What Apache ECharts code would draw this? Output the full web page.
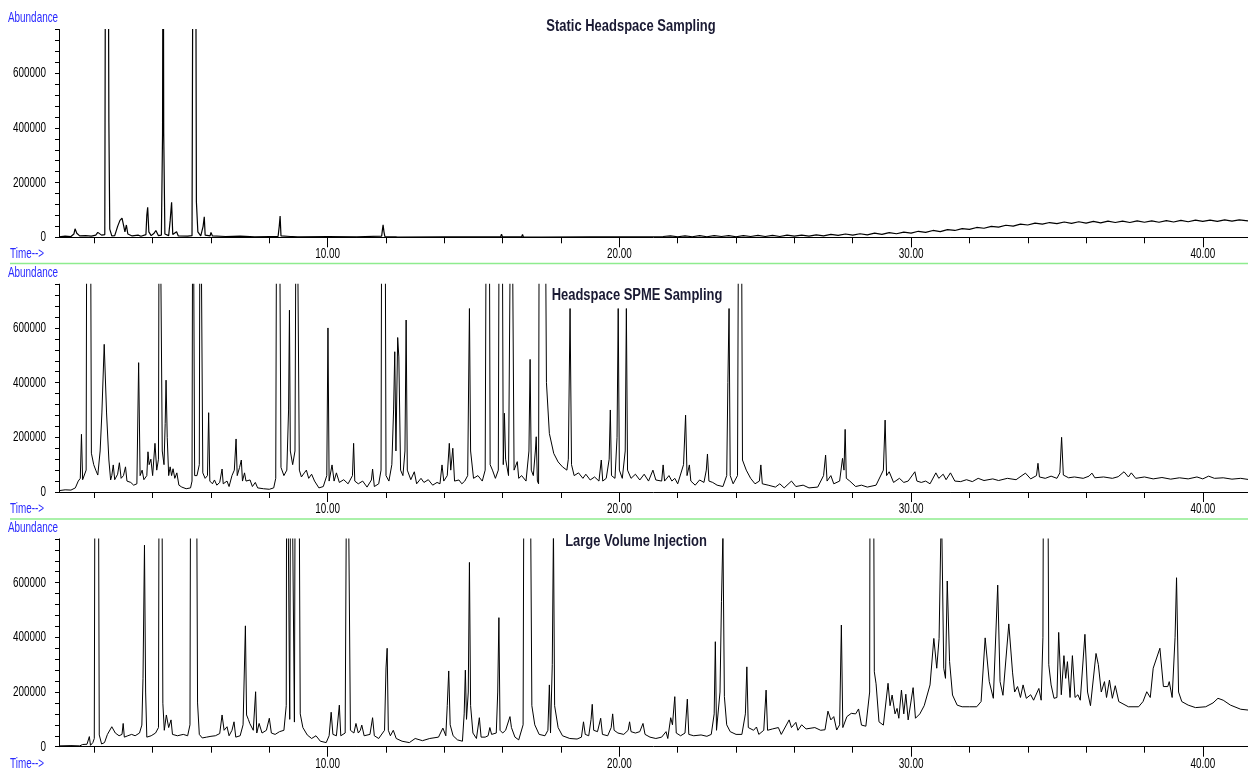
<!DOCTYPE html>
<html>
<head>
<meta charset="utf-8">
<script src="https://cdn.jsdelivr.net/npm/echarts@6/dist/echarts.min.js"></script>
<style>
html, body { margin: 0; padding: 0; background: #fff; }
#chart { width: 1248px; height: 769px; }
</style>
</head>
<body>
<div id="chart"></div>
<script>
// panel titles
var panelTitles = ['Static Headspace Sampling', 'Headspace SPME Sampling', 'Large Volume Injection'];

// time axis range (min) and tick labels
var timeMin = 0.79, timeMax = 41.55;
var timeLabels = [10, 20, 30, 40];
var abundLabels = [0, 200000, 400000, 600000];

// traces: [time (min), abundance]
var staticTrace = [[0.79,2000],[1.0,4000],[1.2,3000],[1.3,12000],[1.34,31000],[1.4,15000],[1.5,5000],[1.7,6000],[1.9,4000],[2.05,8000],[2.12,18000],[2.17,23000],[2.25,8000],[2.36,10000],[2.39,1500000],[2.47,1500000],[2.5,420000],[2.53,30000],[2.6,5000],[2.7,6000],[2.8,40000],[2.88,62000],[2.95,70000],[3.0,45000],[3.05,20000],[3.1,45000],[3.15,12000],[3.3,5000],[3.5,8000],[3.6,4000],[3.77,10000],[3.8,80000],[3.83,110000],[3.87,20000],[3.95,6000],[4.05,15000],[4.11,25000],[4.2,6000],[4.3,8000],[4.34,380000],[4.36,1500000],[4.38,380000],[4.42,12000],[4.55,6000],[4.6,60000],[4.65,128000],[4.69,10000],[4.82,20000],[4.88,5000],[5.2,4000],[5.35,6000],[5.39,1500000],[5.47,1500000],[5.5,130000],[5.55,20000],[5.65,5000],[5.73,40000],[5.77,75000],[5.8,8000],[5.97,5000],[6.0,18000],[6.05,5000],[6.5,3000],[7.0,4000],[7.5,2000],[8.0,3000],[8.3,3000],[8.34,40000],[8.37,78000],[8.4,5000],[8.72,3000],[8.76,10000],[8.8,3000],[8.97,2000],[9.0,8000],[9.05,2000],[10.0,3000],[11.0,2000],[11.85,4000],[11.88,30000],[11.9,46000],[11.93,20000],[11.96,3000],[12.33,2000],[12.36,5000],[12.4,1000],[14.0,2000],[15.93,2000],[15.96,11000],[15.99,2000],[16.65,2000],[16.68,10000],[16.71,1000],[17.34,1000],[17.37,6000],[17.4,1000],[19.0,2000],[21.0,2000],[21.5,3000],
[21.75,5000],[22.0,2000],[22.25,5000],[22.5,2000],[22.75,6000],[23.0,2000],[23.25,6000],[23.5,3000],[23.75,6000],[24.0,2000],[24.25,6000],[24.5,3000],[24.75,7000],[25.0,3000],[25.25,7000],[25.5,3000],[25.75,8000],[26.0,4000],[26.25,8000],[26.5,4000],[26.75,9000],[27.0,5000],[27.25,11000],[27.5,7000],[27.75,12000],[28.0,8000],[28.25,13000],[28.5,9000],[28.75,15000],[29.0,11000],[29.25,17000],[29.5,13000],[29.75,19000],[30.0,15000],[30.25,22000],[30.5,18000],[30.75,25000],[31.0,21000],[31.25,28000],[31.5,25000],[31.75,32000],[32.0,29000],[32.25,36000],[32.5,33000],[32.75,40000],[33.0,37000],[33.25,44000],[33.5,41000],[33.75,48000],[34.0,45000],[34.25,52000],[34.5,48000],[34.75,54000],[35.0,50000],[35.25,56000],[35.5,51000],[35.75,57000],[36.0,52000],[36.25,58000],[36.5,53000],[36.75,59000],[37.0,54000],[37.25,59000],[37.5,54000],[37.75,60000],[38.0,55000],[38.25,60000],[38.5,55000],[38.75,61000],[39.0,56000],[39.25,62000],[39.5,57000],[39.75,63000],[40.0,58000],[40.25,63000],[40.5,58000],[40.75,64000],[41.0,59000],[41.25,64000],[41.55,60000]];

var spmeTrace = [[0.79,5000],[1.0,8000],[1.2,7000],[1.35,15000],[1.45,40000],[1.52,50000],[1.56,211000],[1.6,45000],[1.66,44000],[1.72,80000],[1.75,1500000],[1.86,1500000],[1.9,142000],[1.98,100000],[2.05,80000],[2.12,62000],[2.2,150000],[2.26,289000],[2.34,540000],[2.42,289000],[2.5,117000],[2.56,44000],[2.6,60000],[2.65,99000],[2.7,45000],[2.8,65000],[2.86,107000],[2.92,50000],[3.0,60000],[3.07,92000],[3.12,40000],[3.25,35000],[3.35,25000],[3.46,30000],[3.52,473000],[3.57,60000],[3.64,80000],[3.7,45000],[3.8,60000],[3.84,147000],[3.88,100000],[3.94,120000],[4.0,60000],[4.08,178000],[4.14,80000],[4.2,120000],[4.23,1500000],[4.29,1500000],[4.33,150000],[4.39,100000],[4.43,250000],[4.46,409000],[4.5,200000],[4.55,60000],[4.6,92000],[4.65,60000],[4.7,85000],[4.76,50000],[4.83,70000],[4.9,25000],[5.0,18000],[5.15,12000],[5.3,15000],[5.35,40000],[5.38,1500000],[5.41,1500000],[5.44,60000],[5.52,60000],[5.6,100000],[5.63,1500000],[5.68,1500000],[5.72,70000],[5.8,50000],[5.88,60000],[5.92,290000],[5.96,40000],[6.05,30000],[6.12,44000],[6.2,25000],[6.3,35000],[6.38,84000],[6.42,30000],[6.55,40000],[6.62,20000],[6.72,60000],[6.8,80000],[6.86,194000],[6.9,60000],[6.98,90000],[7.04,117000],[7.08,40000],[7.15,70000],[7.2,40000],[7.34,44000],[7.42,20000],[7.52,35000],[7.6,15000],[7.8,12000],[8.0,10000],[8.15,15000],[8.22,50000],[8.26,1500000],[8.33,1500000],[8.4,90000],[8.5,60000],[8.6,80000],[8.66,300000],[8.69,665000],[8.72,150000],[8.8,100000],[8.88,150000],[8.93,1500000],[8.98,1500000],[9.03,80000],[9.1,55000],[9.2,70000],[9.27,80000],[9.35,50000],[9.45,65000],[9.55,40000],[9.7,15000],[9.85,20000],[9.97,60000],[10.01,600000],[10.05,40000],[10.15,99000],[10.22,40000],[10.3,70000],[10.4,35000],[10.55,45000],[10.7,30000],[10.85,60000],[10.89,178000],[10.93,40000],[11.05,30000],[11.2,40000],[11.35,18000],[11.5,44000],[11.54,84000],[11.6,20000],[11.75,30000],[11.83,80000],[11.86,1500000],[11.96,1500000],[12.0,60000],[12.1,40000],[12.2,100000],[12.26,300000],[12.3,513000],[12.34,150000],[12.4,565000],[12.44,494000],[12.5,80000],[12.58,60000],[12.65,150000],[12.69,629000],[12.73,80000],[12.85,45000],[12.97,74000],[13.05,30000],[13.2,50000],[13.3,35000],[13.45,45000],[13.6,25000],[13.75,35000],[13.85,30000],[13.92,99000],[13.98,40000],[14.1,60000],[14.17,178000],[14.22,80000],[14.29,160000],[14.35,40000],[14.5,44000],[14.6,30000],[14.7,40000],[14.8,60000],[14.86,671000],[14.9,150000],[15.0,50000],[15.15,60000],[15.3,40000],[15.4,80000],[15.45,1500000],[15.53,1500000],[15.57,100000],[15.65,80000],[15.75,50000],[15.85,80000],[15.89,1500000],[15.97,1500000],[16.02,100000],[16.06,288000],[16.1,120000],[16.2,60000],[16.3,1500000],[16.35,1500000],[16.39,80000],[16.5,111000],[16.55,50000],[16.65,60000],[16.8,40000],[16.9,150000],[16.94,485000],[16.98,80000],[17.05,60000],[17.12,150000],[17.15,202000],[17.19,40000],[17.23,30000],[17.26,1500000],[17.44,1500000],[17.5,400000],[17.6,214000],[17.75,141000],[17.9,110000],[18.05,92000],[18.2,80000],[18.25,120000],[18.31,671000],[18.36,100000],[18.45,60000],[18.6,70000],[18.75,50000],[18.85,65000],[19.0,44000],[19.15,55000],[19.3,40000],[19.38,117000],[19.43,40000],[19.55,50000],[19.65,120000],[19.69,300000],[19.73,60000],[19.85,50000],[19.92,200000],[19.96,671000],[20.0,80000],[20.1,50000],[20.2,150000],[20.24,671000],[20.28,80000],[20.4,50000],[20.55,65000],[20.7,44000],[20.85,65000],[21.0,40000],[21.15,80000],[21.25,44000],[21.45,40000],[21.5,99000],[21.55,40000],[21.7,60000],[21.8,40000],[21.9,50000],[22.0,30000],[22.2,100000],[22.27,281000],[22.32,60000],[22.4,99000],[22.45,40000],[22.6,25000],[22.75,44000],[22.9,35000],[22.98,80000],[23.02,139000],[23.07,40000],[23.2,35000],[23.35,25000],[23.55,20000],[23.68,60000],[23.72,400000],[23.76,671000],[23.8,60000],[23.9,30000],[24.05,60000],[24.1,1500000],[24.17,1500000],[24.22,117000],[24.35,80000],[24.5,50000],[24.65,30000],[24.8,40000],[24.85,99000],[24.9,30000],[25.1,25000],[25.35,18000],[25.5,30000],[25.65,15000],[25.9,40000],[26.05,20000],[26.3,25000],[26.5,15000],[26.8,18000],[27.0,60000],[27.07,135000],[27.12,40000],[27.25,60000],[27.35,30000],[27.55,40000],[27.65,123000],[27.7,80000],[27.74,229000],[27.78,50000],[27.9,40000],[28.1,20000],[28.3,25000],[28.5,18000],[28.8,25000],[29.05,80000],[29.11,263000],[29.16,60000],[29.25,74000],[29.4,35000],[29.6,50000],[29.75,35000],[29.9,40000],[30.13,74000],[30.2,40000],[30.35,35000],[30.5,40000],[30.65,30000],[30.85,70000],[30.95,50000],[31.1,65000],[31.2,45000],[31.35,70000],[31.5,40000],[31.7,38000],[31.9,45000],[32.1,38000],[32.3,50000],[32.5,42000],[32.8,48000],[33.0,42000],[33.3,50000],[33.6,45000],[33.92,69000],[34.1,48000],[34.3,60000],[34.35,105000],[34.4,55000],[34.6,50000],[34.8,58000],[35.0,50000],[35.1,70000],[35.16,200000],[35.22,62000],[35.4,52000],[35.6,55000],[35.9,50000],[36.1,58000],[36.2,69000],[36.3,52000],[36.6,55000],[36.9,50000],[37.1,56000],[37.3,74000],[37.45,55000],[37.55,70000],[37.7,50000],[38.0,55000],[38.3,48000],[38.6,53000],[38.9,47000],[39.2,52000],[39.5,48000],[39.8,55000],[40.0,48000],[40.2,58000],[40.4,50000],[40.7,52000],[41.0,47000],[41.3,50000],[41.55,46000]];

var lviTrace = [[0.79,3000],[1.2,4000],[1.5,3000],[1.6,8000],[1.65,2000],[1.75,9000],[1.8,3000],[1.83,37000],[1.87,5000],[1.95,15000],[2.0,30000],[2.03,1500000],[2.13,1500000],[2.17,43000],[2.25,10000],[2.35,15000],[2.45,45000],[2.6,73000],[2.72,50000],[2.85,40000],[2.95,45000],[2.99,85000],[3.03,35000],[3.15,40000],[3.28,45000],[3.4,40000],[3.55,50000],[3.63,79000],[3.67,250000],[3.72,737000],[3.76,200000],[3.8,35000],[3.95,40000],[4.1,50000],[4.2,70000],[4.23,1500000],[4.3,1500000],[4.35,159000],[4.4,60000],[4.47,116000],[4.55,70000],[4.63,98000],[4.68,45000],[4.85,40000],[5.05,45000],[5.2,40000],[5.28,80000],[5.31,1500000],[5.49,1500000],[5.54,160000],[5.6,45000],[5.7,32000],[5.85,35000],[6.0,38000],[6.15,40000],[6.3,48000],[6.38,116000],[6.45,60000],[6.55,73000],[6.62,40000],[6.72,60000],[6.79,91000],[6.85,35000],[7.0,40000],[7.1,80000],[7.18,442000],[7.22,116000],[7.28,100000],[7.33,85000],[7.45,60000],[7.53,201000],[7.57,50000],[7.65,85000],[7.75,50000],[7.9,60000],[8.0,104000],[8.07,50000],[8.2,45000],[8.35,55000],[8.5,60000],[8.58,150000],[8.6,1500000],[8.64,1500000],[8.7,100000],[8.74,1500000],[8.8,1500000],[8.86,90000],[8.9,1500000],[9.0,1500000],[9.06,120000],[9.15,70000],[9.3,43000],[9.45,30000],[9.6,40000],[9.75,20000],[9.95,15000],[10.05,40000],[10.12,126000],[10.18,45000],[10.3,40000],[10.4,152000],[10.45,40000],[10.6,50000],[10.67,1500000],[10.73,1500000],[10.78,60000],[10.9,50000],[10.97,85000],[11.05,50000],[11.12,60000],[11.17,79000],[11.25,40000],[11.45,45000],[11.54,106000],[11.6,40000],[11.75,30000],[11.95,60000],[12.0,288000],[12.04,360000],[12.08,60000],[12.15,40000],[12.25,60000],[12.35,30000],[12.55,20000],[12.8,15000],[13.0,30000],[13.25,22000],[13.5,30000],[13.8,35000],[13.95,68000],[14.05,40000],[14.1,150000],[14.15,277000],[14.2,80000],[14.3,40000],[14.45,25000],[14.62,20000],[14.68,120000],[14.72,280000],[14.76,100000],[14.82,200000],[14.86,674000],[14.9,150000],[14.98,50000],[15.1,30000],[15.2,106000],[15.26,35000],[15.4,35000],[15.5,40000],[15.56,70000],[15.62,45000],[15.78,50000],[15.83,200000],[15.87,472000],[15.91,60000],[16.0,50000],[16.1,60000],[16.25,110000],[16.3,70000],[16.42,35000],[16.55,25000],[16.7,80000],[16.74,1500000],[16.92,1500000],[17.0,150000],[17.1,80000],[17.25,45000],[17.45,40000],[17.55,60000],[17.6,226000],[17.64,50000],[17.7,300000],[17.74,800000],[17.78,150000],[17.9,70000],[18.05,40000],[18.3,30000],[18.55,28000],[18.7,35000],[18.77,91000],[18.83,45000],[18.95,40000],[19.03,100000],[19.07,155000],[19.12,60000],[19.25,55000],[19.36,104000],[19.42,45000],[19.6,40000],[19.72,70000],[19.77,120000],[19.82,60000],[19.95,50000],[20.15,45000],[20.3,60000],[20.35,91000],[20.4,55000],[20.55,50000],[20.7,55000],[20.81,85000],[20.88,45000],[21.05,35000],[21.25,30000],[21.45,35000],[21.6,55000],[21.66,30000],[21.76,106000],[21.82,80000],[21.9,183000],[21.95,50000],[22.1,40000],[22.25,50000],[22.33,174000],[22.38,45000],[22.55,40000],[22.8,43000],[23.0,38000],[23.15,45000],[23.25,120000],[23.29,384000],[23.33,60000],[23.45,200000],[23.5,530000],[23.55,780000],[23.6,183000],[23.68,80000],[23.8,55000],[24.0,45000],[24.2,45000],[24.32,120000],[24.37,292000],[24.42,70000],[24.6,60000],[24.7,72000],[24.78,45000],[24.95,60000],[25.03,207000],[25.08,60000],[25.25,65000],[25.45,70000],[25.55,45000],[25.82,98000],[25.9,70000],[26.05,89000],[26.12,60000],[26.25,80000],[26.4,65000],[26.7,70000],[26.9,60000],[27.05,62000],[27.15,130000],[27.25,98000],[27.35,110000],[27.45,61000],[27.55,80000],[27.61,445000],[27.66,70000],[27.8,110000],[27.95,122000],[28.1,120000],[28.2,138000],[28.3,79000],[28.45,75000],[28.58,200000],[28.6,1500000],[28.7,1500000],[28.74,274000],[28.8,230000],[28.9,91000],[29.05,79000],[29.21,232000],[29.28,150000],[29.35,189000],[29.45,120000],[29.52,140000],[29.58,104000],[29.67,207000],[29.75,120000],[29.82,192000],[29.9,98000],[30.07,216000],[30.15,104000],[30.3,120000],[30.45,150000],[30.65,226000],[30.78,396000],[30.88,287000],[30.96,396000],[31.04,900000],[31.12,287000],[31.18,250000],[31.24,606000],[31.32,311000],[31.42,189000],[31.58,152000],[31.75,146000],[32.0,146000],[32.25,146000],[32.4,165000],[32.54,398000],[32.68,238000],[32.82,177000],[32.97,591000],[33.05,238000],[33.15,188000],[33.35,449000],[33.48,270000],[33.55,200000],[33.65,220000],[33.75,180000],[33.84,226000],[33.95,177000],[34.1,190000],[34.2,170000],[34.38,213000],[34.46,170000],[34.52,400000],[34.55,1500000],[34.67,1500000],[34.72,300000],[34.8,226000],[34.9,177000],[35.0,180000],[35.06,418000],[35.15,190000],[35.24,333000],[35.3,250000],[35.36,311000],[35.45,180000],[35.53,333000],[35.62,180000],[35.72,190000],[35.8,170000],[35.96,411000],[36.05,200000],[36.15,150000],[36.34,341000],[36.42,300000],[36.52,200000],[36.63,238000],[36.7,180000],[36.8,244000],[36.9,177000],[37.0,223000],[37.12,165000],[37.45,146000],[37.8,146000],[37.95,165000],[38.08,201000],[38.2,180000],[38.3,287000],[38.53,360000],[38.65,220000],[38.7,213000],[38.8,220000],[38.85,238000],[38.95,180000],[39.05,400000],[39.1,618000],[39.17,200000],[39.28,165000],[39.5,152000],[39.75,143000],[40.1,146000],[40.35,160000],[40.52,177000],[40.7,170000],[40.95,152000],[41.3,137000],[41.55,134000]];

var traces = [staticTrace, spmeTrace, lviTrace];

var chart = echarts.init(document.getElementById('chart'));

var FONT = '"Liberation Sans", Arial, sans-serif';
var NARROW = 0.66;          // squeeze to mimic the narrow instrument font
var TOP0 = 29.5, STEP = 254.7, H = 207.8;
var LEFT = 59, WIDTH = 1248;
var BLUE = '#2a2aff';

// pixel left of a time value, so tick grids can start on a whole tick
function leftAt(t) {
	return LEFT + (t - timeMin) * (WIDTH - LEFT) / (timeMax - timeMin);
}

var grids = [], xAxes = [], yAxes = [], series = [], graphics = [];

for (var i = 0; i < 3; i++) {
	var panelTop = TOP0 + STEP * i;
	var g = grids.length;

	// data grid
	grids.push({ left: LEFT, right: 0, top: panelTop, height: H, outerBoundsMode: 'none' });
	xAxes.push({
		type: 'value', gridIndex: g, min: timeMin, max: timeMax,
		axisLine: { onZero: false, lineStyle: { color: '#000', width: 1 } },
		axisTick: { show: false }, axisLabel: { show: false },
		splitLine: { show: false }
	});
	yAxes.push({
		type: 'value', gridIndex: g, min: 0, max: 760000, interval: 40000,
		axisLine: { show: true, lineStyle: { color: '#000', width: 1 } },
		axisTick: { show: true, length: 4, lineStyle: { color: '#000' } },
		axisLabel: { show: false },
		splitLine: { show: false }
	});
	series.push({
		type: 'line', xAxisIndex: g, yAxisIndex: g,
		data: traces[i], showSymbol: false, symbol: 'none',
		clip: true, animation: false, silent: true,
		lineStyle: { color: '#000', width: i === 0 ? 1.2 : 1 }
	});

	// short ticks every 2 min (grid starts at 2.00)
	grids.push({ left: leftAt(2), right: 0, top: panelTop, height: H, outerBoundsMode: 'none' });
	xAxes.push({
		type: 'value', gridIndex: g + 1, min: 2, max: timeMax, interval: 2,
		axisLine: { show: false, onZero: false },
		axisTick: { length: 6, lineStyle: { color: '#000' } },
		axisLabel: { show: false }, splitLine: { show: false }
	});
	yAxes.push({ type: 'value', gridIndex: g + 1, show: false, min: 0, max: 1 });

	// long ticks every 10 min (grid starts at 10.00)
	grids.push({ left: leftAt(10), right: 0, top: panelTop, height: H, outerBoundsMode: 'none' });
	xAxes.push({
		type: 'value', gridIndex: g + 2, min: 10, max: timeMax, interval: 10,
		axisLine: { show: false, onZero: false },
		axisTick: { length: 10, lineStyle: { color: '#000' } },
		axisLabel: { show: false }, splitLine: { show: false }
	});
	yAxes.push({ type: 'value', gridIndex: g + 2, show: false, min: 0, max: 1 });

	// side labels
	graphics.push({ type: 'text', x: 8, y: 18 + STEP * i, scaleX: NARROW,
		style: { text: 'Abundance', fill: BLUE, font: '15px ' + FONT, verticalAlign: 'middle' } });
	graphics.push({ type: 'text', x: 10, y: 254 + STEP * i, scaleX: NARROW,
		style: { text: 'Time-->', fill: BLUE, font: '15px ' + FONT, verticalAlign: 'middle' } });
}

// panel titles
var titlePos = [[631, 27], [637, 296], [636, 542]];
for (var k = 0; k < 3; k++) {
	graphics.push({ type: 'text', x: titlePos[k][0], y: titlePos[k][1], z: 10, scaleX: 0.81,
		style: { text: panelTitles[k], fill: '#1a1a33', font: 'bold 16px ' + FONT,
			align: 'center', verticalAlign: 'middle' } });
}

// green separators
graphics.push({ type: 'line', shape: { x1: 10, y1: 263.5, x2: 1248, y2: 263.5 },
	style: { stroke: '#8eec8e', lineWidth: 1.5 } });
graphics.push({ type: 'line', shape: { x1: 10, y1: 519, x2: 1248, y2: 519 },
	style: { stroke: '#8eec8e', lineWidth: 1.5 } });

var option = {
	backgroundColor: '#fff',
	animation: false,
	grid: grids,
	xAxis: xAxes,
	yAxis: yAxes,
	series: series,
	graphic: graphics
};
chart.setOption(option);

// tick labels in the squeezed font, placed through the axes' own scales
for (var p = 0; p < 3; p++) {
	var gi = p * 3;
	var zeroY = chart.convertToPixel({ yAxisIndex: gi }, 0);
	abundLabels.forEach(function (v) {
		graphics.push({ type: 'text', x: 46, y: chart.convertToPixel({ yAxisIndex: gi }, v), scaleX: NARROW,
			style: { text: String(v), fill: '#000', font: '15px ' + FONT, align: 'right', verticalAlign: 'middle' } });
	});
	timeLabels.forEach(function (v) {
		graphics.push({ type: 'text', x: chart.convertToPixel({ xAxisIndex: gi }, v), y: zeroY + 17, scaleX: NARROW,
			style: { text: v.toFixed(2), fill: '#000', font: '15px ' + FONT, align: 'center', verticalAlign: 'middle' } });
	});
}
chart.setOption({ graphic: graphics });
</script>
</body>
</html>
